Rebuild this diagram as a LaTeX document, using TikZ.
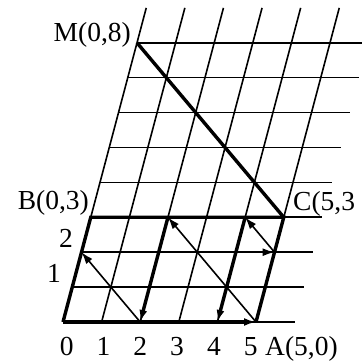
\documentclass[tikz,border=0pt]{standalone}
\usepackage{fontspec}
\setmainfont{Liberation Serif}
\usetikzlibrary{arrows.meta}
\tikzset{
  gridline/.style={line width=1.6pt},
  boldline/.style={line width=3.4pt},
  thinarrow/.style={line width=1.6pt,-{Latex[length=12pt,width=8pt]}},
  boldarrow/.style={line width=3.4pt,-{Latex[length=12pt,width=8pt]}},
  lbl/.style={inner sep=0pt,font=\fontsize{27.5}{30}\selectfont}
}
\begin{document}
\begin{tikzpicture}
\useasboundingbox (0,0) rectangle (361pt,363pt);
\begin{scope}[shift={(63pt,41pt)},x={(38.6pt,0pt)},y={(9.25pt,34.9pt)}]
  % grid
  \foreach \v in {0,...,8} \draw[gridline] (0,\v) -- (6,\v);
  \foreach \u in {0,...,5} \draw[gridline] (\u,0) -- (\u,9);
  % points
  \coordinate (O) at (0,0);
  \coordinate (A) at (5,0);
  \coordinate (B) at (0,3);
  \coordinate (C) at (5,3);
  \coordinate (M) at (0,8);
  \coordinate (P20) at (2,0);
  \coordinate (P02) at (0,2);
  \coordinate (P52) at (5,2);
  \coordinate (P23) at (2,3);
  \coordinate (P43) at (4,3);
  \coordinate (P40) at (4,0);
  % bold frame
  \draw[boldline] (O) -- (B) -- (C) -- (A);
  \draw[boldline] (M) -- (C);
  \draw[boldarrow] (O) -- (A);
  \draw[boldarrow] (P23) -- (P20);
  \draw[boldarrow] (P43) -- (P40);
  % thin arrows
  \draw[thinarrow] (P20) -- (P02);
  \draw[thinarrow] (A) -- (P23);
  \draw[thinarrow] (P02) -- (P52);
  \draw[thinarrow] (P52) -- (P43);
\end{scope}
% labels
\node[lbl,anchor=base east] (lM) at (131pt,321pt) {M(0,8)};
\node[lbl,anchor=base east] (lB) at (89pt,153pt) {B(0,3)};
\node[lbl,anchor=base west] (lC) at (293pt,152pt) {C(5,3};
\node[lbl,anchor=base west] (lA) at (265pt,8pt) {A(5,0)};
\foreach \k in {0,...,5}
  \node[lbl,anchor=base] (d\k) at (66.7pt+36.8pt*\k,8pt) {\k};
\node[lbl,anchor=base] (y2) at (66pt,115pt) {2};
\node[lbl,anchor=base] (y1) at (54pt,80pt) {1};
\end{tikzpicture}
\end{document}
